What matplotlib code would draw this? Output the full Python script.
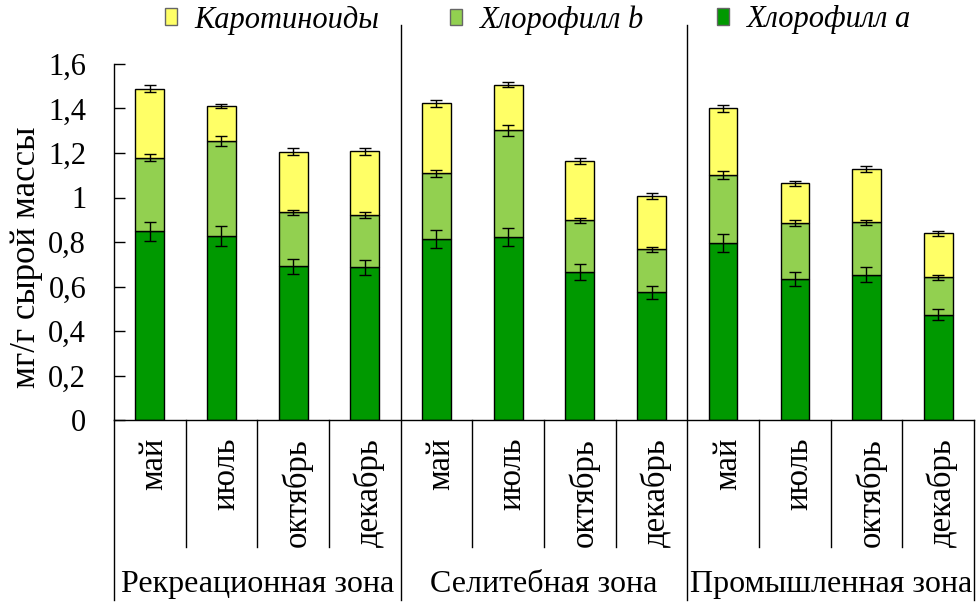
import numpy as np
import matplotlib.pyplot as plt
from matplotlib.patches import Patch
from matplotlib.ticker import FuncFormatter

plt.rcParams['font.family'] = 'serif'
plt.rcParams['font.serif'] = ['Liberation Serif', 'Times New Roman', 'DejaVu Serif']

months = ['май', 'июль', 'октябрь', 'декабрь']
zones = ['Рекреационная зона', 'Селитебная зона', 'Промышленная зона']

chl_a = [0.848, 0.827, 0.691, 0.686, 0.812, 0.821, 0.665, 0.574, 0.797, 0.634, 0.652, 0.473]
chl_b = [0.331, 0.427, 0.242, 0.234, 0.297, 0.482, 0.232, 0.193, 0.304, 0.253, 0.236, 0.168]
carot = [0.309, 0.159, 0.273, 0.288, 0.314, 0.203, 0.267, 0.241, 0.300, 0.177, 0.240, 0.198]
err_a = [0.043, 0.043, 0.034, 0.035, 0.041, 0.041, 0.034, 0.030, 0.040, 0.033, 0.034, 0.025]
err_b = [0.016, 0.022, 0.013, 0.013, 0.016, 0.025, 0.013, 0.010, 0.016, 0.014, 0.013, 0.010]
err_c = [0.016, 0.009, 0.015, 0.015, 0.016, 0.011, 0.013, 0.013, 0.016, 0.011, 0.013, 0.011]

c_a = '#009900'
c_b = '#92d050'
c_c = '#ffff66'

a = np.array(chl_a)
b = np.array(chl_b)
c = np.array(carot)
x = np.arange(len(a))
w = 0.4

fig = plt.figure(figsize=(9.78, 6.06), dpi=100)
ax = fig.add_axes([114/978, 1 - 420/606, 860/978, 356/606])

ekw = dict(ecolor='black', elinewidth=1, capsize=4, capthick=1)
ax.bar(x, a, w, color=c_a, edgecolor='black', linewidth=1, zorder=2)
ax.bar(x, b, w, bottom=a, color=c_b, edgecolor='black', linewidth=1, zorder=2)
ax.bar(x, c, w, bottom=a + b, color=c_c, edgecolor='black', linewidth=1, zorder=2)
ax.errorbar(x, a, yerr=err_a, fmt='none', zorder=3, **ekw)
ax.errorbar(x, a + b, yerr=err_b, fmt='none', zorder=3, **ekw)
ax.errorbar(x, a + b + c, yerr=err_c, fmt='none', zorder=3, **ekw)

ax.set_xlim(-0.5, 11.5)
ax.set_ylim(0, 1.6)
ax.set_yticks(np.arange(0, 1.61, 0.2))
ax.yaxis.set_major_formatter(FuncFormatter(lambda v, p: ('%g' % round(v, 1)).replace('.', ',')))
ax.tick_params(axis='y', direction='in', length=8, width=1, pad=20, labelsize=22)
ax.set_xticks([])
for s in ['top', 'right']:
    ax.spines[s].set_visible(False)
ax.spines['left'].set_linewidth(1)
ax.spines['bottom'].set_linewidth(1)
fig.text(27/978, 1 - 257/606, 'мг/г сырой массы', rotation=90, ha='center', va='center',
         fontsize=25)

# category axis: month separators and zone separators
tr = ax.get_xaxis_transform()
for i in range(1, 12):
    if i % 4:
        ax.plot([i - 0.5, i - 0.5], [0, -0.357], color='black', lw=1, transform=tr, clip_on=False)
for i in [0, 4, 8, 12]:
    top = 1.11 if i in (4, 8) else 0
    ax.plot([i - 0.5, i - 0.5], [top, -0.506], color='black', lw=1, transform=tr, clip_on=False)

for i, m in enumerate(months * 3):
    ax.text(i + 0.06, -0.05, m, rotation=90, ha='center', va='top', fontsize=23.5,
            transform=tr)
for g, z in enumerate(zones):
    ax.text(g * 4 + 1.5, -0.461, z, ha='center', va='center', fontsize=23, transform=tr)

handles = [Patch(facecolor=c_c, edgecolor='#666666', label='Каротиноиды'),
           Patch(facecolor=c_b, edgecolor='#666666', label='Хлорофилл b'),
           Patch(facecolor=c_a, edgecolor='#666666', label='Хлорофилл a')]
leg_x = [165, 450, 717]
for h, lx in zip(handles, leg_x):
    fig.legend(handles=[h], loc='center left', bbox_to_anchor=(lx/978, 1 - 20/606),
               frameon=False, prop={'style': 'italic', 'size': 22}, handlelength=0.4,
               handleheight=0.45, handletextpad=0.55, borderpad=0, borderaxespad=0)

fig.savefig('out.png', dpi=100)
